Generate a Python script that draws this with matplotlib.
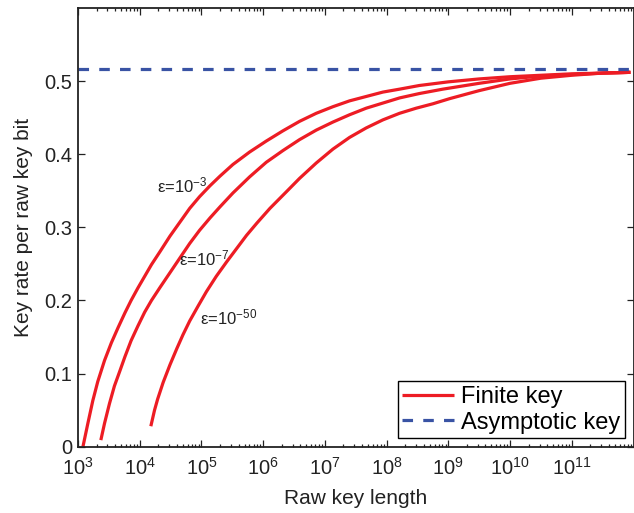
import numpy as np
import matplotlib
matplotlib.use("Agg")
import matplotlib.pyplot as plt
from matplotlib.ticker import LogLocator, NullFormatter

plt.rcParams['font.family'] = ['Liberation Sans', 'DejaVu Sans']
plt.rcParams['mathtext.fontset'] = 'custom'
plt.rcParams['mathtext.rm'] = 'Liberation Sans'
plt.rcParams['mathtext.it'] = 'Liberation Sans:italic'
plt.rcParams['mathtext.default'] = 'regular'

# log10 of raw key length, and key rate per raw key bit
log_n_eps3 = [3.08, 3.16, 3.24, 3.32, 3.43, 3.54, 3.65, 3.76, 3.86, 3.97, 4.08, 4.19, 4.33,
              4.49, 4.65, 4.81, 4.97, 5.14, 5.30, 5.51, 5.78, 6.05, 6.32, 6.59, 6.86, 7.13,
              7.40, 7.67, 7.94, 8.21, 8.53, 9.0, 9.5, 10.0, 10.5, 11.0, 11.5, 11.95]
rate_eps3 = [0.0, 0.032, 0.063, 0.089, 0.118, 0.142, 0.163, 0.183, 0.200, 0.217, 0.233, 0.249, 0.267,
             0.288, 0.307, 0.326, 0.342, 0.357, 0.370, 0.386, 0.403, 0.418, 0.432, 0.445, 0.456, 0.465,
             0.473, 0.479, 0.485, 0.489, 0.494, 0.499, 0.503, 0.506, 0.508, 0.510, 0.511, 0.512]

log_n_eps7 = [3.37, 3.43, 3.51, 3.59, 3.68, 3.76, 3.86, 3.97, 4.08, 4.19, 4.33, 4.49, 4.65,
              4.81, 4.97, 5.14, 5.30, 5.51, 5.78, 6.05, 6.32, 6.59, 6.86, 7.13, 7.40, 7.67,
              7.94, 8.21, 8.53, 8.91, 9.5, 10.0, 10.5, 11.0, 11.5, 11.95]
rate_eps7 = [0.009, 0.032, 0.059, 0.083, 0.104, 0.123, 0.145, 0.165, 0.184, 0.200, 0.218, 0.238, 0.258,
             0.278, 0.296, 0.313, 0.328, 0.347, 0.369, 0.389, 0.405, 0.420, 0.433, 0.444, 0.454, 0.463,
             0.470, 0.477, 0.483, 0.489, 0.497, 0.503, 0.507, 0.509, 0.511, 0.512]

log_n_eps50 = [4.18, 4.24, 4.29, 4.38, 4.49, 4.60, 4.70, 4.81, 4.95, 5.08, 5.24, 5.41, 5.57,
               5.73, 5.90, 6.11, 6.38, 6.59, 6.86, 7.13, 7.40, 7.67, 7.94, 8.21, 8.48, 8.75,
               9.02, 9.5, 10.0, 10.5, 11.0, 11.5, 11.95]
rate_eps50 = [0.028, 0.050, 0.065, 0.088, 0.112, 0.134, 0.153, 0.172, 0.193, 0.212, 0.233, 0.253, 0.271,
              0.289, 0.306, 0.326, 0.349, 0.367, 0.388, 0.407, 0.423, 0.436, 0.447, 0.456, 0.463, 0.469,
              0.476, 0.487, 0.497, 0.504, 0.508, 0.511, 0.512]

asymptotic_rate = 0.516
curve_labels = [r'ε=10$^{-3}$', r'ε=10$^{-7}$', r'ε=10$^{-50}$']
label_log_x = [4.28, 4.64, 4.98]
label_y = [0.357, 0.258, 0.177]
x_tick_exponents = [3, 4, 5, 6, 7, 8, 9, 10, 11]
y_ticks = [0, 0.1, 0.2, 0.3, 0.4, 0.5]
y_tick_labels = ['0', '0.1', '0.2', '0.3', '0.4', '0.5']

red = '#ed1c24'
blue = '#3953a4'

fig = plt.figure(figsize=(6.34, 5.13), dpi=100)
ax = fig.add_axes([78 / 634, 1 - 446.7 / 513, (633.5 - 78) / 634, (446.7 - 8) / 513])

first = True
for lx, ry in [(log_n_eps3, rate_eps3), (log_n_eps7, rate_eps7), (log_n_eps50, rate_eps50)]:
    ax.plot(10 ** np.array(lx), ry, color=red, lw=2.3, solid_capstyle='butt',
            solid_joinstyle='round', label='Finite key' if first else None)
    first = False
ax.axhline(asymptotic_rate, color=blue, lw=2.3, ls=(0, (3.3, 3.2)), label='Asymptotic key')

for t, lx, y in zip(curve_labels, label_log_x, label_y):
    ax.text(10 ** lx, y, t, fontsize=12, ha='left', va='center', color='#222222')

ax.set_xscale('log')
ax.set_xlim(1e3, 1e12)
ax.set_ylim(0, 0.6)
ax.set_xticks([10.0 ** e for e in x_tick_exponents])
ax.set_xticklabels([r'10$^{%d}$' % e for e in x_tick_exponents])
ax.xaxis.set_minor_locator(LogLocator(base=10, subs=np.arange(2, 10), numticks=20))
ax.xaxis.set_minor_formatter(NullFormatter())
ax.set_yticks(y_ticks)
ax.set_yticklabels(y_tick_labels)

ax.tick_params(which='both', direction='in', top=True, right=True, labelsize=14.5,
               colors='#222222', width=0.9)
ax.tick_params(which='major', length=5)
ax.tick_params(which='minor', length=2.5)
ax.tick_params(axis='x', pad=7)
ax.tick_params(axis='y', pad=4)
for s in ax.spines.values():
    s.set_linewidth(1.3)
    s.set_color('#222222')

ax.set_xlabel('Raw key length', fontsize=15, color='#222222', labelpad=8)
ax.set_ylabel('Key rate per raw key bit', fontsize=15, color='#222222', labelpad=8)

leg = ax.legend(loc='lower right', fontsize=17, frameon=True, fancybox=False,
                edgecolor='black', framealpha=1, borderpad=0.2, handlelength=2.2,
                handletextpad=0.3, labelspacing=0.15, borderaxespad=0.35)
leg.get_frame().set_linewidth(1.0)

fig.savefig('out.png', dpi=100)
